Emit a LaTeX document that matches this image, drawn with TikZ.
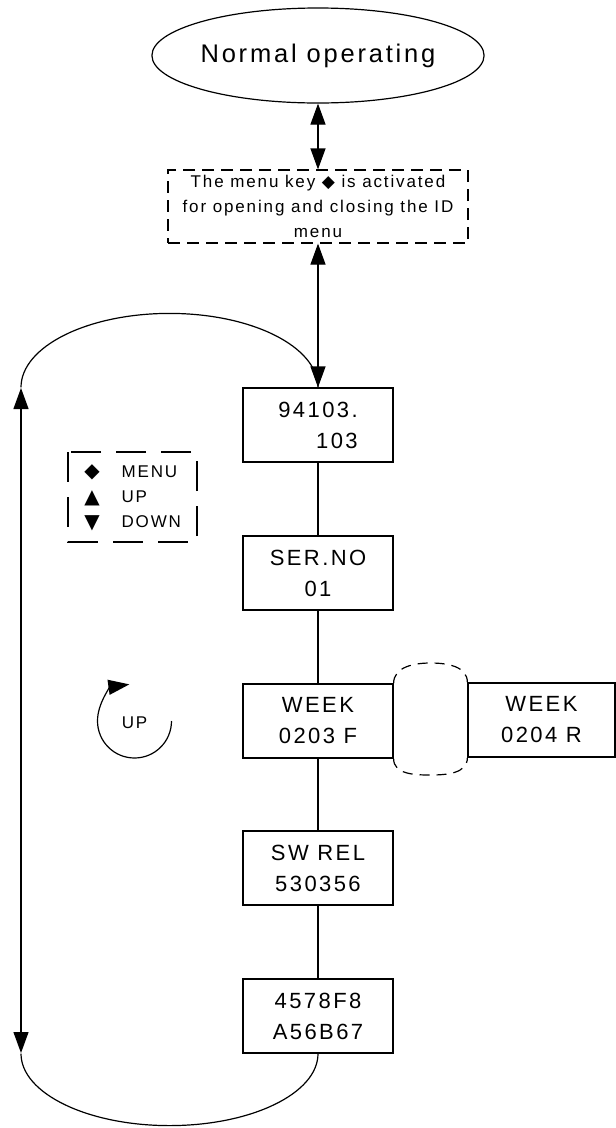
\documentclass[tikz,border=0pt]{standalone}
\usepackage{fontspec}
\setmainfont[LetterSpace=11]{Liberation Sans}
\newfontfamily\symfont{DejaVu Sans}
\usetikzlibrary{shapes.geometric,arrows.meta}
\tikzset{
  tip/.style={-{Triangle[length=21pt,width=15pt]}},
  dtip/.style={{Triangle[length=21pt,width=15pt]}-{Triangle[length=21pt,width=15pt]}},
  valbox/.style={draw, minimum width=150pt, minimum height=74pt, inner sep=0pt, align=center, font=\fontsize{22}{31}\selectfont},
  legtext/.style={anchor=west, inner sep=0pt, font=\fontsize{17}{20}\selectfont},
  legsym/.style={inner sep=0pt, font=\symfont\fontsize{20}{22}\selectfont},
}
\begin{document}
\begin{tikzpicture}[x=1pt,y=1pt,line width=1.2pt]
\useasboundingbox (0,0) rectangle (616,-1128);
% top
\node[draw, ellipse, minimum width=308pt, minimum height=95pt, inner sep=0pt, font=\fontsize{25.5}{30}\selectfont] (norm) at (318,-55.5) {Normal operating};
\node[draw, dash pattern=on 12pt off 7pt, minimum width=300pt, minimum height=73pt, inner sep=0pt, align=center, font=\fontsize{17}{25}\selectfont] (menu) at (318,-206.5)
  {The menu key {\symfont ◆} is activated\\for opening and closing the ID\\menu};
% value boxes
\node[valbox, align=right] (b1) at (318,-425) {94103.\\103};
\node[valbox] (b2) at (318,-573) {SER.NO\\01};
\node[valbox] (b3) at (318,-721) {WEEK\\0203 F};
\node[valbox] (b4) at (318,-868) {SW REL\\530356};
\node[valbox] (b5) at (318,-1016) {4578F8\\A56B67};
\node[valbox, minimum width=147pt] (w2) at (541.5,-720) {WEEK\\0204 R};
% arrows
\draw[dtip] (norm.south) -- (menu.north);
\draw[dtip] (menu.south) -- (b1.north);
\draw (b1) -- (b2);
\draw (b2) -- (b3);
\draw (b3) -- (b4);
\draw (b4) -- (b5);
% loop
\coordinate (lt) at (21,-388);
\coordinate (lb) at (21,-1053);
\draw (b1.north) arc[start angle=0, end angle=180, x radius=148.5, y radius=74];
\draw (b5.south) arc[start angle=0, end angle=-180, x radius=148.5, y radius=72];
\draw[dtip] (lt) -- (lb);
% dashed connector between WEEK boxes
\draw[dash pattern=on 10pt off 7pt] (b3.north east) to[out=90,in=180] (430.5,-663) to[out=0,in=90] (w2.north west);
\draw[dash pattern=on 10pt off 7pt] (b3.south east) to[out=-90,in=180] (430.5,-775) to[out=0,in=-90] (w2.south west);
% legend
\draw[dash pattern=on 30pt off 15pt] (68,-452) rectangle (197,-542);
\node[legsym] (s1) at (92,-472) {◆};
\node[legsym] (s2) at (92,-498) {▲};
\node[legsym] (s3) at (92,-523) {▼};
\node[legtext] (t1) at (121,-472) {MENU};
\node[legtext] (t2) at (121,-497) {UP};
\node[legtext] (t3) at (121,-522) {DOWN};
% UP circle arrow
\node[inner sep=0pt, font=\fontsize{17}{20}\selectfont] (up) at (134.5,-723) {UP};
\draw[tip] (171.5,-721) arc[start angle=0, end angle=-262, radius=37];
\end{tikzpicture}
\end{document}
